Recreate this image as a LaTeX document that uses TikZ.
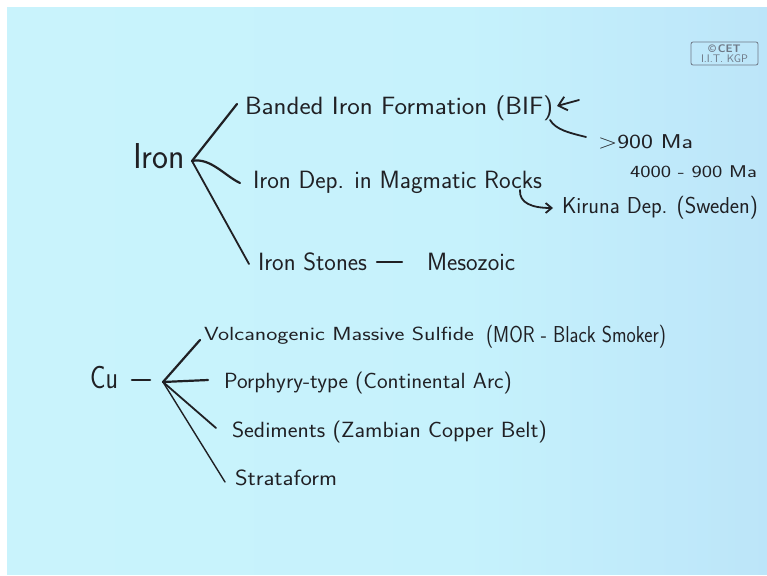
\documentclass[tikz,border=0pt]{standalone}
\usepackage{fontspec}
\usepackage{graphicx}
\usetikzlibrary{arrows.meta}
\definecolor{ink}{RGB}{32,32,36}
\definecolor{bgA}{RGB}{204,244,252}
\definecolor{bgB}{RGB}{198,242,252}
\definecolor{bgC}{RGB}{176,213,245}
\definecolor{cetgray}{RGB}{110,120,134}
\pgfdeclarehorizontalshading{board}{100bp}{color(0bp)=(bgA); color(55bp)=(bgB); color(100bp)=(bgC)}
\newcommand\fitw[2]{\resizebox{#1pt}{\height}{#2}}
\begin{document}
\begin{tikzpicture}[x=1pt,y=-1pt,
  hw/.style={anchor=base west,inner sep=0pt,outer sep=0pt,text=ink,font=\sffamily\fontsize{#1}{#1}\selectfont},
  stroke/.style={draw=ink,line width=1.8pt,line cap=round,line join=round},
  cetbox/.style={draw=cetgray,line width=0.8pt,rounded corners=2pt,minimum width=67pt,minimum height=23pt,inner sep=0.5pt,align=center,text=cetgray,font=\sffamily\fontsize{11}{10}\selectfont}]
\useasboundingbox (0,0) rectangle (767,575);
\fill[white] (0,0) rectangle (767,575);
\shade[shading=board] (7,8) rectangle (767,574);
% logo
\node[cetbox] (cet) at (724.5,53.5) {\textbf{\textcopyright\,CET}\\I.I.T. KGP};
% Iron block
\node[hw=36] (iron) at (133,168) {\fitw{52}{Iron}};
\node[hw=25] (bif) at (245,115) {\fitw{308}{Banded Iron Formation (BIF)}};
\node[hw=20] (age1) at (598,148) {\fitw{95}{>900 Ma}};
\node[hw=17] (age2) at (630,177) {\fitw{127}{4000 - 900 Ma}};
\node[hw=25] (mag) at (253,188) {\fitw{289}{Iron Dep. in Magmatic Rocks}};
\node[hw=23] (kir) at (562,213) {\fitw{196}{Kiruna Dep. (Sweden)}};
\node[hw=25] (stones) at (258,270) {\fitw{109}{Iron Stones}};
\node[hw=25] (meso) at (427,270) {\fitw{88}{Mesozoic}};
\coordinate (ib) at (192,161);
\coordinate (e1) at (237,104);
\coordinate (e2) at (240,183);
\coordinate (e3) at (249,264);
\draw[stroke,line width=2.2pt] (ib) -- (e1);
\draw[stroke,line width=2.2pt] (ib) .. controls (210,157) and (225,176) .. (e2);
\draw[stroke] (ib) -- (e3);
\coordinate (a1) at (579,100);
\coordinate (a2) at (557,106);
\draw[stroke,-{Straight Barb[length=8pt,width=14pt]}] (a1) -- (a2);
\coordinate (k1) at (550,120);
\coordinate (k2) at (586,137);
\draw[stroke] (k1) .. controls (556,130) and (570,133) .. (k2);
\coordinate (r1) at (520,190);
\coordinate (r2) at (553,208);
\draw[stroke,-{Straight Barb[length=6pt,width=10pt]}] (r1) .. controls (519,203) and (532,208) .. (r2);
\coordinate (s1) at (377,262);
\coordinate (s2) at (402,262);
\draw[stroke,line width=2.2pt] (s1) -- (s2);
% Cu block
\node[hw=32] (cu) at (90,388) {\fitw{28}{Cu}};
\node[hw=19] (vms) at (204,340) {\fitw{270}{Volcanogenic Massive Sulfide}};
\node[hw=23] (mor) at (486,342) {\fitw{180}{(MOR - Black Smoker)}};
\node[hw=22] (por) at (224,388) {\fitw{288}{Porphyry-type (Continental Arc)}};
\node[hw=22] (sed) at (232,437) {\fitw{315}{Sediments (Zambian Copper Belt)}};
\node[hw=22] (strata) at (235,485) {\fitw{102}{Strataform}};
\coordinate (d1) at (132,380);
\coordinate (d2) at (150,380);
\draw[stroke,line width=2.6pt] (d1) -- (d2);
\coordinate (cb) at (163,382);
\coordinate (c1) at (200,340);
\coordinate (c2) at (208,380);
\coordinate (c3) at (216,428);
\coordinate (c4) at (225,482);
\draw[stroke,line width=2.2pt] (cb) -- (c1);
\draw[stroke,line width=2.2pt] (cb) -- (c2);
\draw[stroke] (cb) -- (c3);
\draw[stroke,line width=1.4pt] (cb) -- (c4);
\end{tikzpicture}
\end{document}
